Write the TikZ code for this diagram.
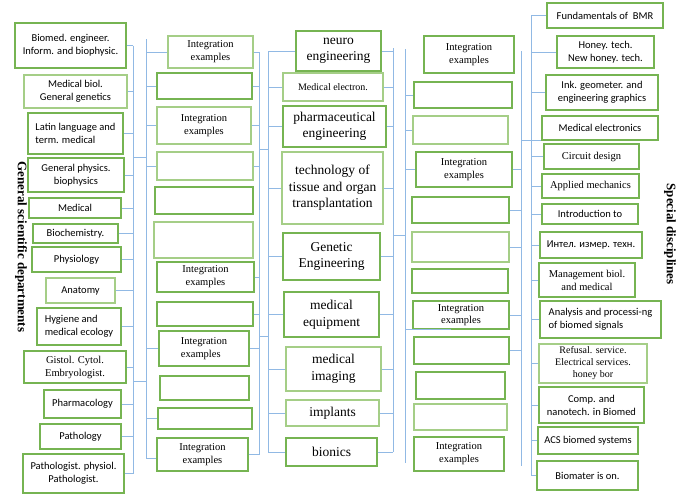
\documentclass[tikz,border=0pt]{standalone}
\usepackage{fontspec}
\setmainfont{Liberation Serif}
\newfontfamily\calib{Carlito}
\usetikzlibrary{calc}
\definecolor{bxg}{RGB}{118,180,82}
\definecolor{bxl}{RGB}{165,206,135}
\definecolor{cn}{RGB}{145,185,228}
\tikzset{
  box/.style={draw=bxg, line width=1.1pt, fill=white, inner sep=1pt, align=center},
  lbox/.style={box, draw=bxl},
  sz/.style 2 args={minimum width=#1, minimum height=#2},
  sf/.style={font=\calib\fontsize{10.5}{13}\selectfont},
  sr/.style={font=\fontsize{10.5}{13}\selectfont},
  big/.style={font=\fontsize{13.5}{16.5}\selectfont},
  conn/.style={draw=cn, line width=1pt},
  side/.style={font=\bfseries\fontsize{13}{15}\selectfont, rotate=-90}
}
\begin{document}
\begin{tikzpicture}[x=1pt,y=-1pt]
\path[use as bounding box, fill=white] (0,0) rectangle (686,496);
% bars
\coordinate (bL) at (133,0);
\coordinate (bM1) at (146,0);
\coordinate (bM2) at (259,0);
\coordinate (bC1) at (268,0);
\coordinate (bC2) at (393,0);
\coordinate (bR1) at (405,0);
\coordinate (bR2) at (521,0);
\coordinate (bR3) at (531,0);
% ---------- left column ----------
\node[box,sf,sz={111}{45}] (L1) at (70.5,45.5) {Biomed. engineer.\\Inform. and biophysic.};
\node[lbox,sf,sz={103}{33}] (L2) at (75.5,91.5) {Medical biol.\\General genetics};
\node[box,sf,sz={95}{41},align=left] (L3) at (75.5,133.5) {Latin language and\\term. medical};
\node[box,sf,sz={96}{34}] (L4) at (76,175) {General physics.\\biophysics};
\node[box,sf,sz={92}{20}] (L5) at (75,208) {Medical};
\node[box,sf,sz={85}{19}] (L6) at (75.5,233.5) {Biochemistry.};
\node[box,sf,sz={89}{25}] (L7) at (76.5,259.5) {Physiology};
\node[lbox,sf,sz={69}{25}] (L8) at (80.5,290.5) {Anatomy};
\node[box,sf,sz={84}{37},align=left] (L9) at (79,326.5) {Hygiene and\\medical ecology};
\node[box,sr,sz={102}{32}] (L10) at (75,367) {Gistol. Cytol.\\Embryologist.};
\node[box,sf,sz={77}{28}] (L11) at (82.5,404) {Pharmacology};
\node[box,sf,sz={81}{25}] (L12) at (80.5,436.5) {Pathology};
\node[box,sf,sz={101}{39}] (L13) at (73.5,473.5) {Pathologist. physiol.\\Pathologist.};
% ---------- second column ----------
\node[lbox,sr,sz={85}{32}] (Ma) at (210.5,52) {Integration\\examples};
\node[box,sz={95}{26}] (Mb) at (204.5,86) {};
\node[lbox,sr,sz={94}{37}] (Mc) at (204,125.5) {Integration\\examples};
\node[lbox,sz={96}{28}] (Md) at (205,166) {};
\node[box,sz={98}{27}] (Me) at (204,200.5) {};
\node[lbox,sz={99}{36}] (Mf) at (203.5,240) {};
\node[box,sr,sz={97}{30}] (Mg) at (205.5,277) {Integration\\examples};
\node[box,sz={96}{24}] (Mh) at (205,314) {};
\node[box,sr,sz={90}{35},align=left] (Mi) at (204,348.5) {Integration\\examples};
\node[box,sz={89}{24}] (Mj) at (204.5,388) {};
\node[box,sz={94}{21}] (Mk) at (205,418.5) {};
\node[box,sr,sz={91}{33}] (Ml) at (202.5,454.5) {Integration\\examples};
% ---------- centre column ----------
\node[box,big,sz={85}{40}] (CA) at (338.5,51) {neuro\\engineering};
\node[lbox,sr,font=\fontsize{10}{12}\selectfont,sz={100}{28}] (CB) at (333,87) {Medical electron.};
\node[box,big,sz={103}{41}] (CC) at (334.5,126.5) {pharmaceutical\\engineering};
\node[lbox,big,sz={101}{72}] (CD) at (332.5,188) {technology of\\tissue and organ\\transplantation};
\node[box,big,sz={97}{47}] (CE) at (331.5,256.5) {Genetic\\Engineering};
\node[box,big,sz={95}{45}] (CF) at (331.5,314.5) {medical\\equipment};
\node[lbox,big,sz={95}{44}] (CG) at (333.5,369) {medical\\imaging};
\node[lbox,big,sz={93}{26}] (CH) at (332.5,413) {implants};
\node[box,big,sz={91}{28}] (CI) at (331.5,452) {bionics};
% ---------- fourth column ----------
\node[box,sr,sz={90}{37}] (Na) at (469,54.5) {Integration\\examples};
\node[box,sz={98}{26}] (Nb) at (463,95) {};
\node[lbox,sz={95}{28}] (Nc) at (460.5,130) {};
\node[box,sr,sz={96}{35}] (Nd) at (464,169.5) {Integration\\examples};
\node[box,sz={97}{26}] (Ne) at (460.5,210) {};
\node[lbox,sz={97}{30}] (Nf) at (460.5,247) {};
\node[box,sz={96}{24}] (Ng) at (460,281) {};
\node[box,sr,font=\fontsize{10.5}{12}\selectfont,sz={96}{28}] (Nh) at (461,315) {Integration\\examples};
\node[box,sz={95}{27}] (Ni) at (461.5,350.5) {};
\node[box,sz={89}{27}] (Nj) at (460.5,385.5) {};
\node[lbox,sz={93}{26}] (Nk) at (460.5,417) {};
\node[box,sr,sz={90}{34}] (Nl) at (459,454) {Integration\\examples};
% ---------- right column ----------
\node[box,sf,sz={116}{25}] (R1) at (605,15.5) {Fundamentals of\ \ BMR};
\node[box,sf,sz={97}{32}] (R2) at (605.5,52) {Honey. tech.\\New honey. tech.};
\node[box,sf,sz={112}{35}] (R3) at (602,92.5) {Ink. geometer. and\\engineering graphics};
\node[box,sf,sz={116}{24}] (R4) at (600,128) {Medical electronics};
\node[box,sr,sz={95}{25}] (R5) at (591.5,156.5) {Circuit design};
\node[box,sr,sz={97}{24}] (R6) at (590.5,186) {Applied mechanics};
\node[box,sf,sz={96}{20}] (R7) at (590,214) {Introduction to};
\node[box,sf,sz={102}{26}] (R8) at (591,245) {Интел. измер. техн.};
\node[box,sr,sz={96}{34}] (R9) at (587,280) {Management biol.\\and medical};
\node[box,sf,sz={121}{37},align=left] (R10) at (600.5,319.5) {Analysis and processi-ng\\of biomed signals};
\node[lbox,sr,font=\fontsize{10}{12}\selectfont,sz={108}{39}] (R11) at (593,363.5) {Refusal. service.\\Electrical services.\\honey bor};
\node[box,sf,sz={105}{36}] (R12) at (591.5,405) {Comp. and\\nanotech. in Biomed};
\node[box,sf,sz={100}{27}] (R13) at (588,440.5) {ACS biomed systems};
\node[box,sf,sz={101}{29}] (R14) at (587.5,475.5) {Biomater is on.};
% ---------- side labels ----------
\node[side] (gsd) at (21,247) {General scientific departments};
\node[side] (spd) at (670,234) {Special disciplines};
% ---------- connectors ----------
\draw[conn] (L1.east -| bL) -- (L13.east -| bL);
\foreach \n in {L1,L2,L3,L4,L5,L6,L7,L8,L9,L10,L11,L12,L13}
  \draw[conn] (\n.east) -- (\n.east -| bL);
\draw[conn] (bM1 |- 0,39) -- (bM1 |- 0,458);
\draw[conn] (bL |- 0,157) -- (bM1 |- 0,157);
\draw[conn] (bL |- 0,381) -- (bM1 |- 0,381);
\foreach \n in {Ma,Mb,Mc,Md,Mi,Mk}
  \draw[conn] (\n.west -| bM1) -- (\n.west);
\draw[conn] (bM1 |- 0,458) -- (Ml.west |- 0,458);
\draw[conn] (Ma.east -| bM2) -- (Ml.east -| bM2);
\foreach \n in {Ma,Mb,Mc,Md,Mg,Mh,Mi,Ml}
  \draw[conn] (\n.east) -- (\n.east -| bM2);
\draw[conn] (bM2 |- 0,149) -- (bC1 |- 0,149);
\draw[conn] (bM2 |- 0,336) -- (bC1 |- 0,336);
\draw[conn] (CA.west -| bC1) -- (CI.west -| bC1);
\foreach \n in {CA,CB,CC,CD,CE,CF,CG,CH,CI}
  \draw[conn] (\n.west -| bC1) -- (\n.west);
\draw[conn] (bC2 |- 0,48) -- (CI.east -| bC2);
\foreach \n in {CA,CB,CC,CD,CE,CF,CG,CH,CI}
  \draw[conn] (\n.east) -- (\n.east -| bC2);
\draw[conn] (bC2 |- 0,235) -- (bR1 |- 0,235);
\draw[conn] (bR1 |- 0,49) -- (bR1 |- 0,463);
\draw[conn] ($(Na.west)+(0,8.5)$ -| bR1) -- ($(Na.west)+(0,8.5)$);
\foreach \n in {Nb,Nc,Nd}
  \draw[conn] (\n.west -| bR1) -- (\n.west);
\draw[conn] (Nh.south west -| bR1) -- ($(Nh.south west)+(39,0)$);
\draw[conn] ($(Nl.west)+(0,9)$ -| bR1) -- ($(Nl.west)+(0,9)$);
\draw[conn] (bR2 |- 0,51) -- (bR2 |- 0,466);
\draw[conn] ($(Na.east)+(0,-3.5)$) -- ($(Na.east)+(0,-3.5)$ -| bR2);
\foreach \n in {Nd,Ne,Nf,Nh,Ni}
  \draw[conn] (\n.east) -- (\n.east -| bR2);
\draw[conn] ($(Nl.east)+(0,12)$) -- ($(Nl.east)+(0,12)$ -| bR2);
\draw[conn] (bR2 |- R4.south west) -- (R4.south west);
\draw[conn] (R1.west -| bR3) -- (R14.west -| bR3);
\foreach \n in {R1,R2,R3,R5,R6,R7,R8,R9,R10,R11,R12,R13,R14}
  \draw[conn] (\n.west -| bR3) -- (\n.west);
\end{tikzpicture}
\end{document}
